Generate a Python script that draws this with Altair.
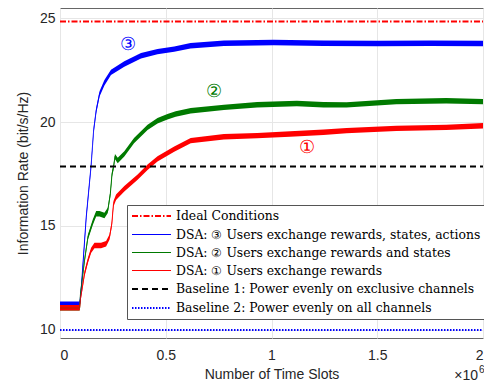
import altair as alt
import pandas as pd

# ---------------- data ----------------
names = [
    "Ideal Conditions",
    "DSA: ③ Users exchange rewards, states, actions",
    "DSA: ② Users exchange rewards and states",
    "DSA: ① Users exchange rewards",
    "Baseline 1: Power evenly on exclusive channels",
    "Baseline 2: Power evenly on all channels",
]

x_const = [0, 2]
ideal_y = [24.85, 24.85]
base1_y = [17.86, 17.86]
base2_y = [9.98, 9.98]

blue_x = [0, 0.093, 0.100, 0.124, 0.147, 0.159, 0.171, 0.187, 0.21, 0.241, 0.304,
          0.383, 0.461, 0.54, 0.617, 0.775, 1.01, 1.246, 1.5, 1.75, 2.0]
blue_y = [11.23, 11.23, 11.9, 15.42, 17.9, 19.6, 20.55, 21.36, 21.9, 22.4, 22.8,
          23.2, 23.4, 23.52, 23.68, 23.8, 23.84, 23.8, 23.79, 23.8, 23.79]

green_x = [0, 0.093, 0.097, 0.116, 0.132, 0.155, 0.171, 0.187, 0.21, 0.226, 0.238,
           0.246, 0.253, 0.26, 0.273, 0.304, 0.35, 0.414, 0.461, 0.508, 0.547,
           0.618, 0.775, 0.932, 1.12, 1.246, 1.355, 1.59, 1.826, 2.0]
green_y = [11.06, 11.06, 11.75, 13.34, 14.46, 15.18, 15.59, 15.59, 15.5, 15.75, 16.55,
           17.5, 17.83, 18.34, 18.15, 18.47, 19.11, 19.75, 20.07, 20.26, 20.39,
           20.55, 20.71, 20.84, 20.9, 20.84, 20.83, 20.99, 21.03, 20.99]

red_x = [0, 0.093, 0.097, 0.116, 0.132, 0.147, 0.163, 0.194, 0.218, 0.234, 0.245,
         0.253, 0.265, 0.304, 0.367, 0.414, 0.461, 0.54, 0.618, 0.775, 0.932,
         1.088, 1.246, 1.355, 1.59, 1.826, 2.0]
red_y = [11.06, 11.06, 11.5, 12.7, 13.34, 13.82, 14.06, 14.06, 14.14, 14.46, 15.1,
         16.07, 16.38, 16.79, 17.35, 17.83, 18.23, 18.7, 19.11, 19.3, 19.35,
         19.43, 19.51, 19.59, 19.7, 19.75, 19.83]

label_text = ["③", "②", "①"]
label_x = [0.32, 0.73, 1.167]
label_y = [23.73, 21.47, 18.77]

x_ticks = [0, 0.5, 1, 1.5, 2]
y_ticks = [10, 15, 20, 25]

# ---------------- styles ----------------
colors = ["#ff0000", "#0000ff", "#007a00", "#ff0000", "#000000", "#0000ff"]
dashes = [[6, 2, 1.5, 2], [1, 0], [1, 0], [1, 0], [6, 4], [1.5, 1.5]]
widths = [2, 1, 1, 1, 2, 2]
curve_colors = ["#0000ff", "#007a00", "#ff0000"]

rows = []
for s, xs, ys in [
    (names[0], x_const, ideal_y),
    (names[1], blue_x, blue_y),
    (names[2], green_x, green_y),
    (names[3], red_x, red_y),
    (names[4], x_const, base1_y),
    (names[5], x_const, base2_y),
]:
    for a, b in zip(xs, ys):
        rows.append({"series": s, "x": a, "y": b})
df = pd.DataFrame(rows)
lab_df = pd.DataFrame({"t": label_text, "x": label_x, "y": label_y})

W, H = 423, 330

x_axis = alt.Axis(values=x_ticks, format="~g", title="Number of Time Slots",
                  ticks=False, domain=False, labelPadding=10, titlePadding=5)
y_axis = alt.Axis(values=y_ticks, title="Information Rate (bit/s/Hz)",
                  ticks=False, domain=False, labelPadding=5, titlePadding=9)
x_scale = alt.Scale(domain=[0, 2], nice=False, zero=False)
y_scale = alt.Scale(domain=[9.6, 25.5], nice=False, zero=False)

base = alt.Chart(df)

layers = []
# noise bands of the learning curves
for s, c in zip(names[1:4], curve_colors):
    layers.append(
        base.transform_filter(alt.datum.series == s)
        .transform_calculate(lo="datum.y - 0.13", hi="datum.y + 0.13")
        .mark_area(color=c, opacity=1)
        .encode(
            x=alt.X("x:Q", scale=x_scale, axis=x_axis),
            y=alt.Y("lo:Q", scale=y_scale, axis=y_axis),
            y2="hi:Q",
        )
    )

lines = base.mark_line().encode(
    x=alt.X("x:Q", scale=x_scale, axis=x_axis),
    y=alt.Y("y:Q", scale=y_scale, axis=y_axis),
    color=alt.Color("series:N", scale=alt.Scale(domain=names, range=colors),
                    legend=alt.Legend(title=None)),
    strokeDash=alt.StrokeDash("series:N", scale=alt.Scale(domain=names, range=dashes),
                              legend=alt.Legend(title=None)),
    strokeWidth=alt.StrokeWidth("series:N",
                                scale=alt.Scale(type="ordinal", domain=names, range=widths),
                                legend=alt.Legend(title=None)),
)
layers.append(lines)

for t, c in zip(label_text, curve_colors):
    layers.append(
        alt.Chart(lab_df).transform_filter(alt.datum.t == t)
        .mark_text(color=c, fontSize=18, font="DejaVu Serif")
        .encode(x=alt.X("x:Q", scale=x_scale, axis=x_axis),
                y=alt.Y("y:Q", scale=y_scale, axis=y_axis),
                text="t:N")
    )

one = pd.DataFrame({"a": [0]})
layers.append(
    alt.Chart(one).mark_text(text="×10", align="right", baseline="alphabetic",
                             fontSize=14, font="Liberation Sans", color="#262626")
    .encode(x=alt.value(W - 5), y=alt.value(372))
)
layers.append(
    alt.Chart(one).mark_text(text="6", align="left", baseline="alphabetic",
                             fontSize=10, font="Liberation Sans", color="#262626")
    .encode(x=alt.value(W - 4), y=alt.value(365))
)

chart = (
    alt.layer(*layers)
    .properties(width=W, height=H, autosize=alt.AutoSizeParams(type="none"),
                padding={"left": 52, "top": 0, "right": 1, "bottom": 44})
    .configure_view(stroke="#666666", strokeWidth=1)
    .configure_axis(grid=True, gridColor="#e6e6e6", gridWidth=1,
                    labelFont="Liberation Sans", labelFontSize=14,
                    labelColor="#262626", titleFont="Liberation Sans",
                    titleFontSize=14, titleFontWeight="normal", titleColor="#262626")
    .configure_legend(orient="none", legendX=67, legendY=197,
                      strokeColor="#555555", fillColor="white", padding=4,
                      cornerRadius=0, labelFont="DejaVu Serif", labelFontSize=12.4,
                      labelColor="black", labelLimit=500,
                      symbolType="M-1,0H5.5", symbolSize=144, rowPadding=5,
                      labelOffset=31)
)

chart.save("out.html", embed_options={"renderer": "svg", "actions": False})
